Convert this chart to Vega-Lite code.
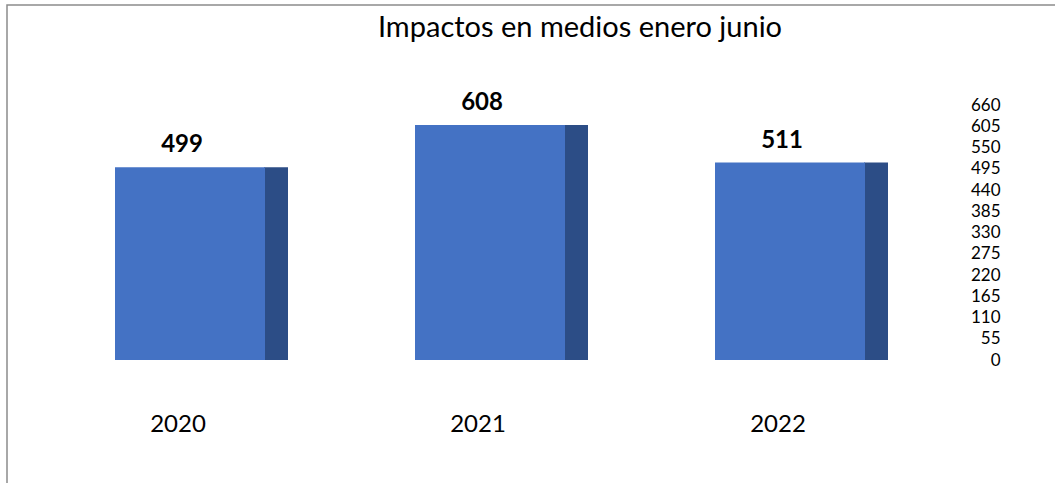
{
  "$schema": "https://vega.github.io/schema/vega-lite/v6.json",
  "width": 1050,
  "height": 480,
  "autosize": {"type": "none"},
  "padding": {"left": 7, "top": 5, "right": 0, "bottom": 0},
  "background": "white",
  "config": {
    "view": {"stroke": "#8c8c8c", "strokeWidth": 1.5},
    "axis": {"grid": false, "domain": false, "ticks": false, "title": null}
  },
  "title": {
    "text": "Impactos en medios  enero junio",
    "font": "Lato",
    "fontSize": 29,
    "fontWeight": "normal",
    "color": "#000000",
    "anchor": "middle",
    "offset": -38,
    "dx": 48
  },
  "data": {
    "values": [
      {"year": "2020", "impactos": 499},
      {"year": "2021", "impactos": 608},
      {"year": "2022", "impactos": 511}
    ]
  },
  "encoding": {
    "x": {
      "field": "year",
      "type": "nominal",
      "scale": {"range": [33, 933], "paddingInner": 0.5, "paddingOuter": 0.25},
      "axis": {
        "orient": "bottom",
        "offset": -75,
        "labelAngle": 0,
        "labelFont": "Lato",
        "labelFontSize": 24,
        "labelColor": "#000000",
        "labelOffset": -12
      }
    },
    "y": {
      "field": "impactos",
      "type": "quantitative",
      "scale": {"domain": [0, 660], "range": [355, 100], "nice": false, "zero": true},
      "axis": {
        "orient": "right",
        "offset": -57,
        "values": [0, 55, 110, 165, 220, 275, 330, 385, 440, 495, 550, 605, 660],
        "labelAlign": "right",
        "labelPadding": 0,
        "labelOverlap": false,
        "labelFont": "Lato",
        "labelFontSize": 17,
        "labelColor": "#000000"
      }
    }
  },
  "layer": [
    {
      "mark": {"type": "bar", "color": "#2C4D86", "width": 24, "xOffset": 86}
    },
    {
      "mark": {"type": "bar", "color": "#4472C4"}
    },
    {
      "mark": {"type": "text", "fontWeight": "bold", "fontSize": 24, "font": "Lato", "baseline": "bottom", "dy": -10, "xOffset": -8, "color": "#000000"},
      "encoding": {"text": {"field": "impactos", "type": "quantitative"}}
    }
  ]
}
